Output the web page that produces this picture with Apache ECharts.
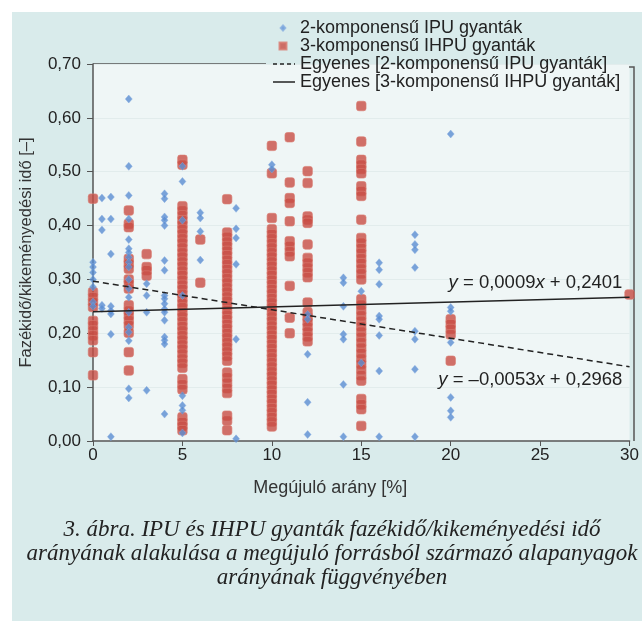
<!DOCTYPE html>
<html>
<head>
<meta charset="utf-8">
<script src="https://cdn.jsdelivr.net/npm/echarts@6/dist/echarts.min.js"></script>
<style>
  html, body { margin: 0; padding: 0; background: #fff; }
  #bg { position: absolute; left: 12px; top: 12px; width: 630px; height: 609px; background: #d9ebeb; }
  #chart { position: absolute; left: 0; top: 0; width: 642px; height: 621px; }
</style>
</head>
<body>
<div id="bg"></div>
<div id="chart"></div>
<script>
// 2-komponensű IPU gyanták: x oszlopok és a hozzájuk tartozó y értékek
const ipuX = [0, 0.5, 1, 2, 3, 4, 5, 6, 8, 10, 12, 14, 15, 16, 18, 20];
const ipuY = [
  [0.332, 0.323, 0.313, 0.300, 0.286, 0.258, 0.250],
  [0.451, 0.412, 0.392, 0.252, 0.246],
  [0.453, 0.412, 0.347, 0.250, 0.242, 0.236, 0.198, 0.008],
  [0.635, 0.510, 0.456, 0.412, 0.374, 0.357, 0.350, 0.341, 0.332, 0.323, 0.300, 0.283, 0.267, 0.239, 0.211, 0.202, 0.186, 0.097, 0.080],
  [0.292, 0.270, 0.239, 0.094],
  [0.459, 0.450, 0.416, 0.410, 0.400, 0.335, 0.317, 0.270, 0.264, 0.255, 0.245, 0.239, 0.224, 0.193, 0.187, 0.180, 0.050],
  [0.510, 0.482, 0.410, 0.270, 0.084, 0.066, 0.057, 0.015],
  [0.424, 0.414, 0.389, 0.336],
  [0.432, 0.394, 0.377, 0.328, 0.189, 0.004],
  [0.513, 0.505],
  [0.235, 0.226, 0.161, 0.072, 0.012],
  [0.303, 0.294, 0.250, 0.198, 0.189, 0.105, 0.008],
  [0.278, 0.145],
  [0.331, 0.318, 0.291, 0.232, 0.226, 0.196, 0.130, 0.008],
  [0.383, 0.365, 0.355, 0.322, 0.204, 0.189, 0.133, 0.008],
  [0.570, 0.248, 0.241, 0.183, 0.081, 0.056, 0.044]
];

// 3-komponensű IHPU gyanták
const ihpuX = [0, 2, 3, 5, 6, 7.5, 10, 11, 12, 15, 20, 30];
const ihpuY = [
  [0.450, 0.276, 0.267, 0.258, 0.249, 0.223, 0.215, 0.205, 0.196, 0.187, 0.165, 0.122],
  [0.428, 0.403, 0.397, 0.338, 0.329, 0.320, 0.300, 0.292, 0.283, 0.252, 0.242, 0.233, 0.224, 0.215, 0.201, 0.165, 0.131],
  [0.347, 0.323, 0.317, 0.307],
  [0.522, 0.513, 0.436, 0.428, 0.419, 0.410, 0.402, 0.393, 0.385, 0.376, 0.368, 0.359, 0.350, 0.342, 0.333, 0.325,
   0.316, 0.308, 0.299, 0.290, 0.282, 0.273, 0.265, 0.256, 0.248, 0.239, 0.231, 0.222, 0.213, 0.205, 0.196, 0.188,
   0.179, 0.171, 0.162, 0.153, 0.145, 0.136, 0.115, 0.105, 0.096, 0.044, 0.035, 0.028, 0.020],
  [0.374, 0.294],
  [0.449, 0.387, 0.379, 0.370, 0.362, 0.353, 0.345, 0.336, 0.328, 0.319, 0.311, 0.302, 0.294, 0.285, 0.277, 0.268,
   0.260, 0.251, 0.243, 0.234, 0.226, 0.217, 0.209, 0.200, 0.192, 0.183, 0.175, 0.166, 0.158, 0.149, 0.127, 0.118,
   0.108, 0.098, 0.089, 0.047, 0.038, 0.020],
  [0.548, 0.497, 0.414, 0.393, 0.384, 0.376, 0.367, 0.359, 0.350, 0.342, 0.333, 0.325, 0.316, 0.308, 0.299, 0.291,
   0.282, 0.274, 0.265, 0.257, 0.248, 0.240, 0.231, 0.223, 0.214, 0.206, 0.197, 0.189, 0.180, 0.172, 0.163, 0.155,
   0.146, 0.138, 0.129, 0.121, 0.112, 0.104, 0.095, 0.087, 0.078, 0.070, 0.061, 0.053, 0.044, 0.036, 0.027],
  [0.564, 0.480, 0.451, 0.442, 0.408, 0.371, 0.362, 0.352, 0.343, 0.288, 0.229, 0.200],
  [0.501, 0.479, 0.417, 0.411, 0.405, 0.365, 0.340, 0.331, 0.322, 0.313, 0.304, 0.257, 0.239, 0.230, 0.221, 0.212, 0.203, 0.194, 0.185],
  [0.622, 0.556, 0.522, 0.513, 0.505, 0.497, 0.473, 0.464, 0.455, 0.411, 0.377, 0.368, 0.358, 0.349, 0.339, 0.330,
   0.320, 0.311, 0.300, 0.263, 0.253, 0.243, 0.233, 0.223, 0.213, 0.203, 0.193, 0.183, 0.173, 0.163, 0.153, 0.143,
   0.133, 0.122, 0.112, 0.078, 0.068, 0.059, 0.028],
  [0.226, 0.217, 0.208, 0.198, 0.149],
  [0.272]
];

// illesztett egyenesek: [meredekség, tengelymetszet]
const fitIPU = [-0.0053, 0.2968];
const fitIHPU = [0.0009, 0.2401];
const fitRange = [0, 30];

const names = [
  '2-komponensű IPU gyanták',
  '3-komponensű IHPU gyanták',
  'Egyenes [2-komponensű IPU gyanták]',
  'Egyenes [3-komponensű IHPU gyanták]'
];

function toPoints(xs, ys) {
  return xs.flatMap((x, i) => ys[i].map(y => [x, y]));
}
function fitLine(fit) {
  return fitRange.map(x => [x, fit[0] * x + fit[1]]);
}
const comma = v => String(v).replace('.', ',');

const font = 'Liberation Sans, Arial, sans-serif';
const chart = echarts.init(document.getElementById('chart'));

function eqLabel(text) {
  return {
    show: true, position: 'left', distance: 0, color: '#222',
    formatter: text, fontSize: 18.5, fontFamily: font,
    rich: { i: { fontStyle: 'italic', fontSize: 18.5, fontFamily: font, color: '#222' } }
  };
}
// a vonalas jelmagyarázat-elemeknél csak a vonal látszik
const noSymbol = { color: 'rgba(0,0,0,0)', borderColor: 'rgba(0,0,0,0)', borderWidth: 0 };

const option = {
  animation: false,
  backgroundColor: 'transparent',
  textStyle: { fontFamily: font },
  title: {
    text: '3. ábra. IPU és IHPU gyanták fazékidő/kikeményedési idő\n' +
          'arányának alakulása a megújuló forrásból származó alapanyagok\n' +
          'arányának függvényében',
    left: 332, top: 518, textAlign: 'center', padding: 0,
    textStyle: {
      fontFamily: 'Liberation Serif, serif', fontStyle: 'italic', fontWeight: 'normal',
      fontSize: 23, lineHeight: 24, color: '#222', align: 'center'
    }
  },
  legend: {
    orient: 'vertical', left: 272, top: 19, padding: 0,
    itemWidth: 22, itemHeight: 14, itemGap: 0,
    textStyle: { fontSize: 18, lineHeight: 18, color: '#222', fontFamily: font },
    data: [
      { name: names[0], icon: 'path://M0,0L0,0M22,14L22,14M10,4.5L12.3,7L10,9.5L7.7,7Z' },
      { name: names[1], icon: 'path://M0,0L0,0M22,14L22,14M6.5,3.5h7v7h-7z' },
      { name: names[2], icon: 'inherit', itemStyle: noSymbol, lineStyle: { type: [4, 3], width: 1.3 } },
      { name: names[3], icon: 'inherit', itemStyle: noSymbol, lineStyle: { width: 1.5 } }
    ]
  },
  grid: {
    left: 93, right: 8, top: 64, bottom: 180,
    show: true, backgroundColor: '#eff6f6', borderWidth: 0
  },
  xAxis: {
    type: 'value', min: 0, max: 30, interval: 5,
    name: 'Megújuló arány [%]', nameLocation: 'middle', nameGap: 38,
    nameTextStyle: { fontSize: 18, color: '#333', padding: [0, 62, 0, 0] },
    axisLine: { show: true, lineStyle: { color: '#555', width: 1.5 } },
    axisTick: { show: true, length: 5, lineStyle: { color: '#555' } },
    axisLabel: { fontSize: 17, color: '#222', margin: 6 },
    splitLine: { show: false }
  },
  yAxis: {
    type: 'value', min: 0, max: 0.7, interval: 0.1,
    name: 'Fazékidő/kikeményedési idő [–]', nameLocation: 'middle', nameGap: 58,
    nameRotate: 90,
    nameTextStyle: { fontSize: 16.5, color: '#333' },
    axisLine: { show: true, lineStyle: { color: '#555', width: 1.5 } },
    axisTick: { show: true, length: 6, lineStyle: { color: '#555' } },
    axisLabel: { fontSize: 17, color: '#222', margin: 12, formatter: v => v.toFixed(2).replace('.', ',') },
    splitLine: { show: true, lineStyle: { color: '#e2ecec', width: 1 } }
  },
  graphic: [
    { type: 'line', shape: { x1: 93, y1: 64, x2: 266, y2: 64 }, style: { stroke: '#555', lineWidth: 1.5 } },
    { type: 'polyline', shape: { points: [[629, 67], [634, 67], [634, 441]] }, style: { stroke: '#555', lineWidth: 1.5, fill: null } }
  ],
  series: [
    {
      name: names[0], type: 'scatter', symbol: 'diamond', symbolSize: [7, 8], z: 3,
      itemStyle: { color: '#5a8dd2', borderColor: '#86ace0', borderWidth: 0.5 },
      data: toPoints(ipuX, ipuY)
    },
    {
      name: names[1], type: 'scatter', symbol: 'roundRect', symbolSize: 9.5, z: 2,
      itemStyle: { color: '#c84d45', borderColor: '#da7a70', borderWidth: 0.8 },
      data: toPoints(ihpuX, ihpuY)
    },
    {
      name: names[2], type: 'line', symbol: 'none', z: 4,
      lineStyle: { color: '#222', width: 1.5, type: [6, 4] },
      itemStyle: { color: '#222' },
      data: fitLine(fitIPU),
      markPoint: {
        symbol: 'circle', symbolSize: 0, silent: true,
        label: eqLabel('{i|y} = –' + comma(Math.abs(fitIPU[0])) + '{i|x} + ' + comma(fitIPU[1])),
        data: [{ coord: [29.6, 0.114] }]
      }
    },
    {
      name: names[3], type: 'line', symbol: 'none', z: 4,
      lineStyle: { color: '#222', width: 1.5 },
      itemStyle: { color: '#222' },
      data: fitLine(fitIHPU),
      markPoint: {
        symbol: 'circle', symbolSize: 0, silent: true,
        label: eqLabel('{i|y} = ' + comma(fitIHPU[0]) + '{i|x} + ' + comma(fitIHPU[1])),
        data: [{ coord: [29.6, 0.293] }]
      }
    }
  ]
};
chart.setOption(option);
</script>
</body>
</html>
